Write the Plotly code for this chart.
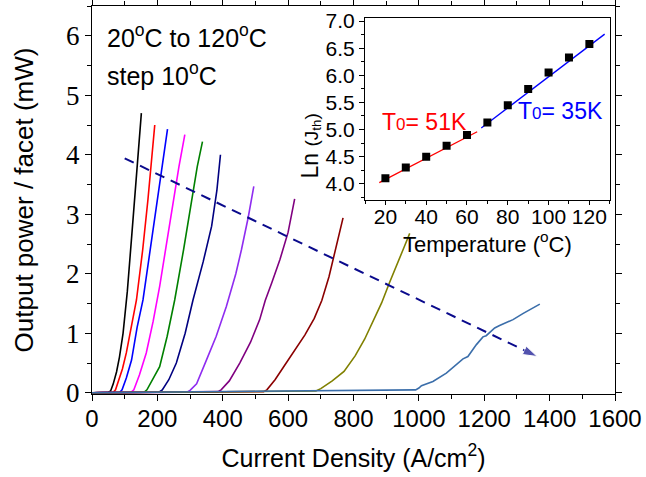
import plotly.graph_objects as go

# ---------------- data: L-J curves (current density A/cm^2, power mW) ----------------
temps_C = [20, 30, 40, 50, 60, 70, 80, 90, 100, 110, 120]
curve_colors = ["#000000", "#ff0000", "#0000ff", "#ff00ff", "#008000", "#000080",
                "#8f2cf0", "#800080", "#8b0000", "#808000", "#3b6eaa"]

J_20 = [0, 50, 57, 65, 75, 84, 95, 108, 121, 135, 151]
P_20 = [0, 0.01, 0.03, 0.15, 0.35, 0.6, 1.0, 1.7, 2.6, 3.6, 4.7]
J_30 = [0, 65, 72, 82, 93, 105, 120, 136, 155, 171, 192]
P_30 = [0, 0.01, 0.05, 0.2, 0.4, 0.67, 1.1, 1.56, 2.4, 3.24, 4.5]
J_40 = [0, 85, 92, 105, 121, 138, 156, 175, 197, 215, 231]
P_40 = [0, 0.01, 0.05, 0.25, 0.55, 1.1, 1.56, 2.3, 3.1, 3.8, 4.43]
J_50 = [0, 120, 128, 145, 166, 187, 207, 228, 248, 266, 284]
P_50 = [0, 0.01, 0.05, 0.3, 0.67, 1.2, 1.79, 2.5, 3.24, 3.8, 4.34]
J_60 = [0, 160, 168, 185, 207, 230, 253, 280, 304, 322, 338]
P_60 = [0, 0.01, 0.05, 0.22, 0.44, 0.95, 1.56, 2.4, 3.24, 3.8, 4.22]
J_70 = [0, 205, 215, 235, 258, 285, 309, 340, 366, 382, 393]
P_70 = [0, 0.01, 0.05, 0.22, 0.5, 1.0, 1.56, 2.2, 2.8, 3.4, 4.0]
J_80 = [0, 290, 300, 320, 350, 380, 411, 440, 457, 478, 495]
P_80 = [0, 0.01, 0.04, 0.15, 0.55, 0.95, 1.45, 2.0, 2.4, 2.95, 3.47]
J_90 = [0, 385, 395, 420, 452, 485, 513, 525, 530, 550, 575, 600, 620]
P_90 = [0, 0.02, 0.05, 0.2, 0.5, 0.85, 1.23, 1.45, 1.55, 1.85, 2.24, 2.7, 3.26]
J_100 = [0, 525, 535, 560, 588, 620, 651, 680, 703, 725, 745, 768]
P_100 = [0, 0.02, 0.05, 0.22, 0.45, 0.72, 0.97, 1.25, 1.55, 1.95, 2.4, 2.94]
J_110 = [0, 685, 700, 735, 771, 805, 834, 860, 886, 910, 932, 955, 972]
P_110 = [0, 0.03, 0.07, 0.2, 0.36, 0.62, 0.9, 1.2, 1.51, 1.85, 2.13, 2.45, 2.68]
J_120 = [0, 500, 990, 1000, 1008, 1043, 1084, 1135, 1150, 1176, 1196, 1206,
         1232, 1247, 1288, 1318, 1344, 1370]
P_120 = [0, 0.02, 0.05, 0.08, 0.12, 0.19, 0.33, 0.57, 0.61, 0.81, 0.94, 0.96,
         1.09, 1.13, 1.23, 1.33, 1.41, 1.49]

curves_J = [J_20, J_30, J_40, J_50, J_60, J_70, J_80, J_90, J_100, J_110, J_120]
curves_P = [P_20, P_30, P_40, P_50, P_60, P_70, P_80, P_90, P_100, P_110, P_120]

# arrow showing increasing temperature
arrow_J = [100, 1362]
arrow_P = [3.94, 0.61]

# ---------------- inset: ln(Jth) vs temperature ----------------
inset_T = [20, 30, 40, 50, 60, 70, 80, 90, 100, 110, 120]
inset_lnJ = [4.1, 4.3, 4.5, 4.7, 4.9, 5.13, 5.45, 5.75, 6.05, 6.33, 6.58]
fit1_T = [17, 65]
fit1_lnJ = [4.02, 4.96]
fit2_T = [67, 127.5]
fit2_lnJ = [5.03, 6.76]

fig = go.Figure()

for J, P, c, t in zip(curves_J, curves_P, curve_colors, temps_C):
    fig.add_trace(go.Scatter(x=J, y=P, mode="lines", name=f"{t} °C",
                             line=dict(color=c, width=1.6), xaxis="x", yaxis="y"))

fig.add_trace(go.Scatter(
    x=arrow_J, y=arrow_P, mode="lines+markers",
    line=dict(color="#0a0a8c", width=2, dash="10px,7px"),
    marker=dict(symbol="arrow", size=[0, 15], angleref="previous", color="#0a0a8c"),
    xaxis="x", yaxis="y", showlegend=False))

fig.add_trace(go.Scatter(x=fit1_T, y=fit1_lnJ, mode="lines",
                         line=dict(color="#ff0000", width=1.3), xaxis="x2", yaxis="y2"))
fig.add_trace(go.Scatter(x=fit2_T, y=fit2_lnJ, mode="lines",
                         line=dict(color="#0000ff", width=1.3), xaxis="x2", yaxis="y2"))
fig.add_trace(go.Scatter(x=inset_T, y=inset_lnJ, mode="markers",
                         marker=dict(symbol="square", size=8, color="#000000"),
                         xaxis="x2", yaxis="y2"))

sans = "Liberation Sans"
serif = "Liberation Serif, Times New Roman, serif"

fig.update_layout(
    width=646, height=477,
    margin=dict(l=92, r=31, t=6, b=83),
    paper_bgcolor="white", plot_bgcolor="white",
    showlegend=False,
    xaxis=dict(
        domain=[0, 1], range=[0, 1600], dtick=200, tick0=0, automargin=False,
        showgrid=False, zeroline=False,
        showline=True, linecolor="black", linewidth=1.3, mirror="allticks",
        ticks="outside", ticklen=6, tickwidth=1.2, tickcolor="black",
        minor=dict(dtick=100, ticks="outside", ticklen=4, tickcolor="black", tickwidth=1),
        tickfont=dict(family=sans, size=24, color="black"),
        ticklabelstandoff=-3,
        title=dict(text="Current Density (A/cm<sup>2</sup>)",
                   font=dict(family=sans, size=25, color="black"), standoff=18),
    ),
    yaxis=dict(
        domain=[0, 1], range=[-0.02, 6.5], dtick=1, tick0=0, automargin=False,
        showgrid=False, zeroline=False,
        showline=True, linecolor="black", linewidth=1.3, mirror="allticks",
        ticks="outside", ticklen=6, tickwidth=1.2, tickcolor="black",
        minor=dict(dtick=0.5, ticks="outside", ticklen=4, tickcolor="black", tickwidth=1),
        tickfont=dict(family=serif, size=27, color="black"),
        title=dict(text="Output power / facet (mW)",
                   font=dict(family=sans, size=26, color="black"), standoff=24),
    ),
    xaxis2=dict(
        domain=[0.522, 0.99], anchor="y2", range=[10, 130], dtick=20, tick0=0,
        automargin=False,
        showgrid=False, zeroline=False,
        showline=True, linecolor="black", linewidth=1.2, mirror=True,
        ticks="outside", ticklen=4, tickwidth=1, tickcolor="black",
        minor=dict(dtick=10, ticks="outside", ticklen=3, tickcolor="black"),
        tickfont=dict(family=sans, size=21, color="black"),
        ticklabelstandoff=-6,
        title=dict(text="Temperature (<sup>o</sup>C)",
                   font=dict(family=sans, size=22, color="black"), standoff=0),
    ),
    yaxis2=dict(
        domain=[0.5, 0.968], anchor="x2", range=[3.7, 7.05], dtick=0.5, tick0=0,
        tickformat=".1f", automargin=False,
        showgrid=False, zeroline=False,
        showline=True, linecolor="black", linewidth=1.2, mirror=True,
        ticks="outside", ticklen=5, tickwidth=1, tickcolor="black",
        minor=dict(dtick=0.25, ticks="outside", ticklen=3, tickcolor="black"),
        tickfont=dict(family=sans, size=21, color="black"),
    ),
    annotations=[
        dict(text="20<sup>o</sup>C to 120<sup>o</sup>C", xref="paper", yref="paper",
             x=0.024, y=0.922, xanchor="left", yanchor="middle", showarrow=False,
             font=dict(family=sans, size=25, color="black")),
        dict(text="step 10<sup>o</sup>C", xref="paper", yref="paper",
             x=0.024, y=0.825, xanchor="left", yanchor="middle", showarrow=False,
             font=dict(family=sans, size=25, color="black")),
        dict(text="T<span style='font-size:17px'>0</span>= 51K", xref="x2", yref="y2",
             x=39, y=5.13, showarrow=False,
             font=dict(family=sans, size=23, color="#ff0000")),
        dict(text="T<span style='font-size:17px'>0</span>= 35K", xref="x2", yref="y2",
             x=106, y=5.35, showarrow=False,
             font=dict(family=sans, size=23, color="#0000ff")),
        dict(text="Ln <span style='font-size:19px'>(J<sub>th</sub>)</span>",
             xref="paper", yref="paper",
             x=(310 - 92) / 523, y=(394 - 112) / 388, textangle=-90,
             showarrow=False, font=dict(family=sans, size=23, color="black")),
    ],
)

fig.write_html("out.html")
